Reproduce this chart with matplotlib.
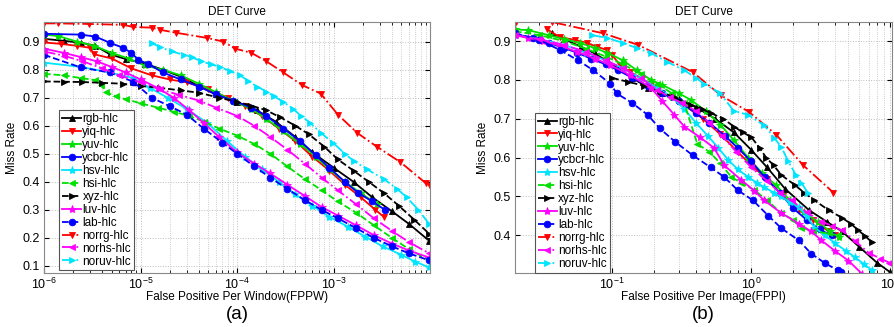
import numpy as np
import matplotlib
matplotlib.use("Agg")
import matplotlib.pyplot as plt
from matplotlib.ticker import LogLocator, NullFormatter

plt.rcParams['font.family'] = ['Liberation Sans', 'DejaVu Sans']
plt.rcParams['mathtext.fontset'] = 'custom'
plt.rcParams['mathtext.rm'] = 'Liberation Sans'
plt.rcParams['mathtext.default'] = 'regular'

# ---------------- data: panel (a) FPPW ----------------
labels = ['rgb-hlc', 'yiq-hlc', 'yuv-hlc', 'ycbcr-hlc', 'hsv-hlc', 'hsi-hlc',
          'xyz-hlc', 'luv-hlc', 'lab-hlc', 'norrg-hlc', 'norhs-hlc', 'noruv-hlc']

rgb_a_x = [1e-6, 1.6e-6, 2.4e-6, 3.4e-6, 4.8e-6, 7e-6, 1.1e-5, 1.7e-5, 2.6e-5, 4e-5, 6e-5, 1e-4,
           1.6e-4, 2.5e-4, 4e-4, 6e-4, 1e-3, 1.6e-3, 2.5e-3, 4e-3, 6e-3, 9.7e-3]
rgb_a_y = [0.91, 0.903, 0.896, 0.885, 0.855, 0.838, 0.822, 0.80, 0.775, 0.742, 0.712, 0.685,
           0.655, 0.615, 0.56, 0.505, 0.45, 0.40, 0.345, 0.295, 0.25, 0.19]
yiq_a_x = [1e-6, 1.5e-6, 2.2e-6, 3e-6, 3.3e-6, 5e-6, 8e-6, 1.3e-5, 2e-5, 3e-5, 5e-5, 8e-5, 1.2e-4,
           1.8e-4, 2.7e-4, 4e-4, 6e-4, 9e-4, 1.3e-3, 1.9e-3, 2.7e-3, 3.3e-3]
yiq_a_y = [0.897, 0.892, 0.885, 0.878, 0.855, 0.84, 0.805, 0.78, 0.765, 0.755, 0.73, 0.70, 0.67,
           0.635, 0.59, 0.545, 0.49, 0.44, 0.39, 0.345, 0.30, 0.275]
yuv_a_x = [1e-6, 1.4e-6, 2.2e-6, 3.3e-6, 5e-6, 7.5e-6, 1.1e-5, 1.7e-5, 2.6e-5, 4e-5, 6e-5, 9e-5,
           1.4e-4, 2e-4, 3e-4, 4.5e-4, 6.5e-4, 9e-4, 1.3e-3, 1.9e-3, 2.8e-3]
yuv_a_y = [0.925, 0.92, 0.90, 0.885, 0.86, 0.84, 0.815, 0.80, 0.78, 0.75, 0.72, 0.69,
           0.66, 0.625, 0.58, 0.535, 0.49, 0.445, 0.40, 0.36, 0.32]
ycbcr_a_x = [1e-6, 2.4e-6, 3.4e-6, 4.8e-6, 6.6e-6, 8e-6, 9.5e-6, 1.2e-5, 1.7e-5, 2.6e-5, 4e-5,
             6e-5, 9e-5, 1.4e-4, 2e-4, 3e-4, 4.5e-4, 6.5e-4, 9e-4, 1.3e-3, 1.8e-3, 2.5e-3, 3.4e-3]
ycbcr_a_y = [0.928, 0.925, 0.918, 0.896, 0.878, 0.86, 0.835, 0.82, 0.79, 0.765, 0.74,
             0.712, 0.69, 0.665, 0.635, 0.59, 0.545, 0.495, 0.45, 0.40, 0.36, 0.33, 0.30]
hsv_a_x = [1e-6, 2.4e-6, 4.8e-6, 8.4e-6, 1.25e-5, 1.9e-5, 3e-5, 4.9e-5, 7.9e-5, 1.2e-4, 1.8e-4,
           2.7e-4, 4e-4, 6e-4, 9e-4, 1.4e-3, 2.1e-3, 3.2e-3, 5e-3, 7e-3, 9.7e-3]
hsv_a_y = [0.825, 0.81, 0.79, 0.77, 0.735, 0.70, 0.66, 0.61, 0.545, 0.49, 0.445,
           0.40, 0.355, 0.315, 0.275, 0.24, 0.205, 0.17, 0.14, 0.115, 0.095]
hsi_a_x = [1e-6, 1.6e-6, 2.4e-6, 3.4e-6, 3.9e-6, 4.4e-6, 5.5e-6, 7e-6, 1e-5, 1.5e-5, 2.2e-5,
           3.2e-5, 4.5e-5, 6.5e-5, 1e-4, 1.5e-4, 2.2e-4, 3.3e-4, 5e-4, 7.5e-4, 1.1e-3, 1.7e-3,
           2.6e-3, 4e-3, 6e-3, 9.7e-3]
hsi_a_y = [0.785, 0.78, 0.77, 0.763, 0.745, 0.72, 0.705, 0.695, 0.68, 0.665, 0.65,
           0.635, 0.615, 0.59, 0.565, 0.535, 0.50, 0.455, 0.41, 0.37, 0.33, 0.29,
           0.245, 0.20, 0.16, 0.12]
xyz_a_x = [1e-6, 1.6e-6, 2.5e-6, 4e-6, 6.5e-6, 1e-5, 1.6e-5, 2.6e-5, 4e-5, 6.5e-5, 1e-4, 1.4e-4,
           2e-4, 2.8e-4, 4e-4, 5.5e-4, 8e-4, 1.1e-3, 1.6e-3, 2.3e-3, 3.3e-3, 4.7e-3, 6.8e-3, 9.7e-3]
xyz_a_y = [0.758, 0.757, 0.756, 0.753, 0.75, 0.742, 0.735, 0.726, 0.718, 0.70, 0.685, 0.672,
           0.655, 0.63, 0.60, 0.57, 0.525, 0.48, 0.44, 0.40, 0.36, 0.315, 0.265, 0.215]
luv_a_x = [1e-6, 1.6e-6, 2.4e-6, 3.5e-6, 5e-6, 7e-6, 1e-5, 1.5e-5, 2.2e-5, 3.2e-5, 4.5e-5, 6.5e-5,
           1e-4, 1.5e-4, 2.2e-4, 3.3e-4, 5e-4, 7.5e-4, 1.1e-3, 1.7e-3, 2.6e-3, 4e-3, 6e-3, 9.7e-3]
luv_a_y = [0.875, 0.86, 0.845, 0.83, 0.81, 0.79, 0.765, 0.735, 0.70, 0.655, 0.61, 0.56,
           0.505, 0.465, 0.43, 0.39, 0.35, 0.31, 0.28, 0.245, 0.21, 0.18, 0.155, 0.13]
lab_a_x = [1e-6, 2.4e-6, 4.8e-6, 8.4e-6, 1.3e-5, 2e-5, 3e-5, 4.5e-5, 7e-5, 1e-4, 1.5e-4, 2.2e-4,
           3.3e-4, 5e-4, 7.5e-4, 1.1e-3, 1.7e-3, 2.6e-3, 4e-3, 6e-3, 9.7e-3]
lab_a_y = [0.853, 0.808, 0.79, 0.757, 0.70, 0.67, 0.64, 0.59, 0.54, 0.50, 0.455, 0.415,
           0.375, 0.335, 0.30, 0.27, 0.235, 0.20, 0.17, 0.145, 0.12]
norrg_a_x = [1e-6, 1.4e-6, 2.9e-6, 6.6e-6, 8.4e-6, 1.3e-5, 1.6e-5, 2.3e-5, 4.9e-5, 7.2e-5, 9.5e-5,
             1.4e-4, 2e-4, 3e-4, 4.7e-4, 7.3e-4, 1.1e-3, 1.74e-3, 2.8e-3, 4.9e-3, 8.9e-3, 9.9e-3]
norrg_a_y = [0.965, 0.965, 0.963, 0.96, 0.952, 0.95, 0.942, 0.932, 0.913, 0.90, 0.875,
             0.86, 0.83, 0.79, 0.745, 0.715, 0.64, 0.575, 0.525, 0.47, 0.396, 0.385]
norhs_a_x = [1e-6, 1.6e-6, 2.5e-6, 4e-6, 6e-6, 1e-5, 1.6e-5, 2.5e-5, 4e-5, 6e-5, 1e-4, 1.5e-4,
             2.2e-4, 3.3e-4, 5e-4, 7.5e-4, 1.1e-3, 1.7e-3, 2.6e-3, 4e-3, 6e-3, 9.7e-3]
norhs_a_y = [0.865, 0.85, 0.83, 0.805, 0.78, 0.755, 0.73, 0.71, 0.69, 0.665, 0.635, 0.60,
             0.56, 0.515, 0.465, 0.415, 0.37, 0.32, 0.27, 0.225, 0.185, 0.145]
noruv_a_x = [1.3e-5, 1.6e-5, 2.1e-5, 2.8e-5, 3.4e-5, 4.2e-5, 5.3e-5, 6.6e-5, 8.4e-5, 1.07e-4,
             1.3e-4, 1.6e-4, 2e-4, 2.4e-4, 3e-4, 3.8e-4, 4.6e-4, 5.7e-4, 7.3e-4, 9.8e-4, 1.3e-3,
             1.6e-3, 2.2e-3, 3.3e-3, 4.5e-3, 5.7e-3, 7.5e-3, 9.7e-3]
noruv_a_y = [0.895, 0.88, 0.865, 0.853, 0.845, 0.83, 0.82, 0.81, 0.795, 0.78,
             0.76, 0.74, 0.722, 0.705, 0.685, 0.66, 0.635, 0.61, 0.575, 0.54, 0.50,
             0.475, 0.445, 0.41, 0.375, 0.345, 0.30, 0.25]

# ---------------- data: panel (b) FPPI ----------------
rgb_b_x = [0.037, 0.045, 0.06, 0.075, 0.09, 0.11, 0.14, 0.18, 0.23, 0.3, 0.4, 0.55, 0.75, 1.0,
           1.3, 1.75, 2.6, 3.5, 4.5, 6.0, 8.0, 10.0]
rgb_b_y = [0.92, 0.905, 0.885, 0.868, 0.85, 0.83, 0.805, 0.78, 0.765, 0.75, 0.73, 0.70, 0.665,
           0.62, 0.575, 0.52, 0.465, 0.435, 0.41, 0.37, 0.33, 0.305]
yiq_b_x = [0.034, 0.042, 0.054, 0.066, 0.078, 0.092, 0.1, 0.114, 0.135, 0.19, 0.21, 0.26, 0.33,
           0.45, 0.6, 0.8, 1.0, 1.3, 1.7, 2.2, 2.8, 3.6, 4.0]
yiq_b_y = [0.93, 0.91, 0.903, 0.895, 0.885, 0.877, 0.864, 0.838, 0.82, 0.79, 0.78, 0.756, 0.735,
           0.70, 0.66, 0.615, 0.58, 0.545, 0.50, 0.465, 0.44, 0.41, 0.40]
yuv_b_x = [0.02, 0.025, 0.035, 0.045, 0.059, 0.075, 0.092, 0.12, 0.15, 0.19, 0.23, 0.3, 0.37,
           0.47, 0.6, 0.75, 0.95, 1.2, 1.5, 1.9, 2.4, 3.0, 3.7, 4.3]
yuv_b_y = [0.93, 0.928, 0.915, 0.905, 0.895, 0.882, 0.87, 0.85, 0.825, 0.80, 0.787, 0.766, 0.748,
           0.72, 0.685, 0.645, 0.60, 0.56, 0.53, 0.49, 0.46, 0.435, 0.41, 0.395]
ycbcr_b_x = [0.02, 0.027, 0.035, 0.045, 0.056, 0.07, 0.09, 0.11, 0.14, 0.18, 0.23, 0.3, 0.4,
             0.5, 0.65, 0.8, 1.0, 1.25, 1.6, 2.0, 2.5, 3.1, 3.8]
ycbcr_b_y = [0.918, 0.908, 0.895, 0.882, 0.87, 0.855, 0.84, 0.825, 0.805, 0.785, 0.765, 0.745,
             0.715, 0.69, 0.655, 0.625, 0.59, 0.55, 0.51, 0.47, 0.44, 0.415, 0.40]
hsv_b_x = [0.02, 0.03, 0.045, 0.065, 0.09, 0.12, 0.16, 0.21, 0.27, 0.33, 0.4, 0.49, 0.58, 0.68,
           0.8, 0.95, 1.1, 1.24, 1.45, 1.65, 1.9, 2.2, 2.5, 2.85, 3.4, 4.0, 4.8, 5.6, 6.5, 7.4]
hsv_b_y = [0.915, 0.905, 0.89, 0.87, 0.85, 0.83, 0.805, 0.78, 0.755, 0.725, 0.69, 0.655, 0.625,
           0.595, 0.57, 0.55, 0.535, 0.524, 0.51, 0.50, 0.485, 0.473, 0.45, 0.42, 0.40, 0.38,
           0.36, 0.343, 0.325, 0.31]
hsi_b_x = [0.02, 0.03, 0.045, 0.065, 0.09, 0.12, 0.16, 0.21, 0.27, 0.33, 0.41, 0.5, 0.6, 0.72,
           0.85, 1.05, 1.3, 1.65, 2.0, 2.3, 2.8, 3.6, 4.2]
hsi_b_y = [0.925, 0.915, 0.9, 0.88, 0.86, 0.84, 0.815, 0.79, 0.765, 0.74, 0.635, 0.615, 0.585,
           0.55, 0.535, 0.517, 0.49, 0.457, 0.44, 0.42, 0.41, 0.405, 0.40]
xyz_b_x = [0.1, 0.13, 0.17, 0.22, 0.28, 0.37, 0.44, 0.51, 0.63, 0.75, 0.87, 1.0, 1.15, 1.28,
           1.45, 1.65, 2.05, 2.4, 2.85, 3.6, 4.5, 5.2, 5.9, 6.6, 7.4]
xyz_b_y = [0.805, 0.795, 0.785, 0.77, 0.755, 0.735, 0.725, 0.715, 0.70, 0.68, 0.665, 0.653,
           0.625, 0.60, 0.58, 0.555, 0.53, 0.51, 0.49, 0.465, 0.445, 0.43, 0.413, 0.398, 0.382]
luv_b_x = [0.02, 0.025, 0.032, 0.042, 0.056, 0.075, 0.097, 0.135, 0.19, 0.23, 0.28, 0.33, 0.43,
           0.54, 0.64, 0.85, 1.05, 1.24, 1.65, 2.2, 2.7, 3.2, 4.0, 5.0, 6.3]
luv_b_y = [0.915, 0.908, 0.9, 0.888, 0.872, 0.855, 0.838, 0.812, 0.78, 0.745, 0.71, 0.68, 0.652,
           0.625, 0.58, 0.542, 0.515, 0.49, 0.457, 0.43, 0.41, 0.387, 0.36, 0.335, 0.30]
lab_b_x = [0.02, 0.03, 0.042, 0.057, 0.073, 0.097, 0.108, 0.14, 0.18, 0.22, 0.285, 0.38, 0.51,
           0.64, 0.8, 1.03, 1.33, 1.65, 2.2, 2.7, 3.4, 4.2, 4.4]
lab_b_y = [0.92, 0.903, 0.877, 0.85, 0.825, 0.79, 0.765, 0.74, 0.71, 0.675, 0.64, 0.606, 0.575,
           0.55, 0.516, 0.49, 0.45, 0.418, 0.387, 0.353, 0.328, 0.31, 0.305]
norrg_b_x = [0.0205, 0.0368, 0.086, 0.154, 0.38, 0.606, 0.97, 1.52, 2.37, 3.9]
norrg_b_y = [0.949, 0.949, 0.92, 0.89, 0.82, 0.76, 0.717, 0.658, 0.58, 0.51]
norhs_b_x = [0.02, 0.03, 0.045, 0.065, 0.09, 0.12, 0.16, 0.21, 0.26, 0.32, 0.4, 0.5, 0.62, 0.78,
             1.0, 1.3, 1.6, 1.95, 2.5, 3.2, 3.8, 4.5, 5.6, 7.0, 8.5, 9.8]
norhs_b_y = [0.915, 0.905, 0.89, 0.872, 0.85, 0.83, 0.805, 0.775, 0.755, 0.74, 0.72, 0.69, 0.655,
             0.615, 0.575, 0.54, 0.51, 0.49, 0.46, 0.435, 0.425, 0.413, 0.385, 0.355, 0.34, 0.33]
noruv_b_x = [0.072, 0.092, 0.12, 0.15, 0.19, 0.25, 0.33, 0.4, 0.46, 0.6, 0.75, 0.95, 1.24, 1.47,
             1.65, 1.85, 2.1, 2.3, 2.55]
noruv_b_y = [0.915, 0.908, 0.895, 0.882, 0.869, 0.846, 0.825, 0.805, 0.79, 0.765, 0.72, 0.71,
             0.683, 0.65, 0.627, 0.59, 0.555, 0.535, 0.51]

# ---------------- styles ----------------
K, R, G, B, C, M = '#000000', '#ff0000', '#00e000', '#0000ff', '#00e5ff', '#ff00ff'
styles = [
    (K, '-', '^'), (R, '-', 'v'), (G, '-', '*'), (B, '-', 'o'), (C, '-', '*'), (G, '--', '<'),
    (K, '--', '>'), (M, '-', '*'), (B, '--', 'o'), (R, '-.', 'v'), (M, '-.', '<'), (C, '-.', '>'),
]

panel_a = [(rgb_a_x, rgb_a_y), (yiq_a_x, yiq_a_y), (yuv_a_x, yuv_a_y), (ycbcr_a_x, ycbcr_a_y),
           (hsv_a_x, hsv_a_y), (hsi_a_x, hsi_a_y), (xyz_a_x, xyz_a_y), (luv_a_x, luv_a_y),
           (lab_a_x, lab_a_y), (norrg_a_x, norrg_a_y), (norhs_a_x, norhs_a_y),
           (noruv_a_x, noruv_a_y)]
panel_b = [(rgb_b_x, rgb_b_y), (yiq_b_x, yiq_b_y), (yuv_b_x, yuv_b_y), (ycbcr_b_x, ycbcr_b_y),
           (hsv_b_x, hsv_b_y), (hsi_b_x, hsi_b_y), (xyz_b_x, xyz_b_y), (luv_b_x, luv_b_y),
           (lab_b_x, lab_b_y), (norrg_b_x, norrg_b_y), (norhs_b_x, norhs_b_y),
           (noruv_b_x, noruv_b_y)]

W, H = 894, 327
fig = plt.figure(figsize=(W / 100, H / 100), dpi=100)

def px_axes(l, t, r, b):
    return fig.add_axes([l / W, 1 - b / H, (r - l) / W, (b - t) / H])

ax_a = px_axes(44, 22, 430, 273)
ax_b = px_axes(515, 22, 892, 273)


def style_axes(ax, xlim, ylim, yticks, xlabel, letter, leg_anchor):
    ax.set_xscale('log')
    ax.set_xlim(*xlim)
    ax.set_ylim(*ylim)
    ax.set_yticks(yticks)
    ax.set_yticklabels([f'{v:.1f}' for v in yticks])
    ax.xaxis.set_major_locator(LogLocator(base=10, numticks=20))
    ax.xaxis.set_minor_locator(LogLocator(base=10, subs=np.arange(2, 10), numticks=20))
    ax.xaxis.set_minor_formatter(NullFormatter())
    ax.grid(True, which='major', axis='both', color='#bdbdbd', linestyle=':', linewidth=0.7)
    ax.grid(True, which='minor', axis='x', color='#bdbdbd', linestyle=':', linewidth=0.6)
    ax.tick_params(which='both', direction='in', top=True, right=True, labelsize=9, pad=3)
    ax.tick_params(which='major', length=3.5)
    ax.tick_params(which='minor', length=2)
    ax.set_axisbelow(True)
    for s in ax.spines.values():
        s.set_color('#888888')
        s.set_linewidth(0.8)
    ax.set_title('DET Curve', fontsize=8.5, pad=5)
    ax.set_ylabel('Miss Rate', fontsize=8.5, labelpad=3)
    ax.set_xlabel(xlabel, fontsize=8.5, labelpad=-1)
    ax.text(0.5, -0.13, letter, transform=ax.transAxes, ha='center', va='top', fontsize=13.5)
    leg = ax.legend(loc='lower left', bbox_to_anchor=leg_anchor, fontsize=8.5,
                    handlelength=1.6, handletextpad=0.1, labelspacing=0.08,
                    borderpad=0.25, borderaxespad=0, fancybox=False, framealpha=1,
                    edgecolor='#555555')
    leg.get_frame().set_linewidth(0.8)


for ax, data in [(ax_a, panel_a), (ax_b, panel_b)]:
    for (x, y), (col, ls, mk), lab in zip(data, styles, labels):
        ms = 6 if mk == '*' else 4.8
        ax.plot(x, y, color=col, linestyle=ls, marker=mk, markersize=ms, linewidth=1.3,
                markeredgewidth=0.6, label=lab)

style_axes(ax_a, (1e-6, 9.9e-3), (0.075, 0.97), [0.1, 0.2, 0.3, 0.4, 0.5, 0.6, 0.7, 0.8, 0.9],
           'False Positive Per Window(FPPW)', '(a)', (0.04, 0.01))
style_axes(ax_b, (0.02, 10.3), (0.303, 0.949), [0.4, 0.5, 0.6, 0.7, 0.8, 0.9],
           'False Positive Per Image(FPPI)', '(b)', (0.053, 0.0))

fig.savefig('out.png', dpi=100)
